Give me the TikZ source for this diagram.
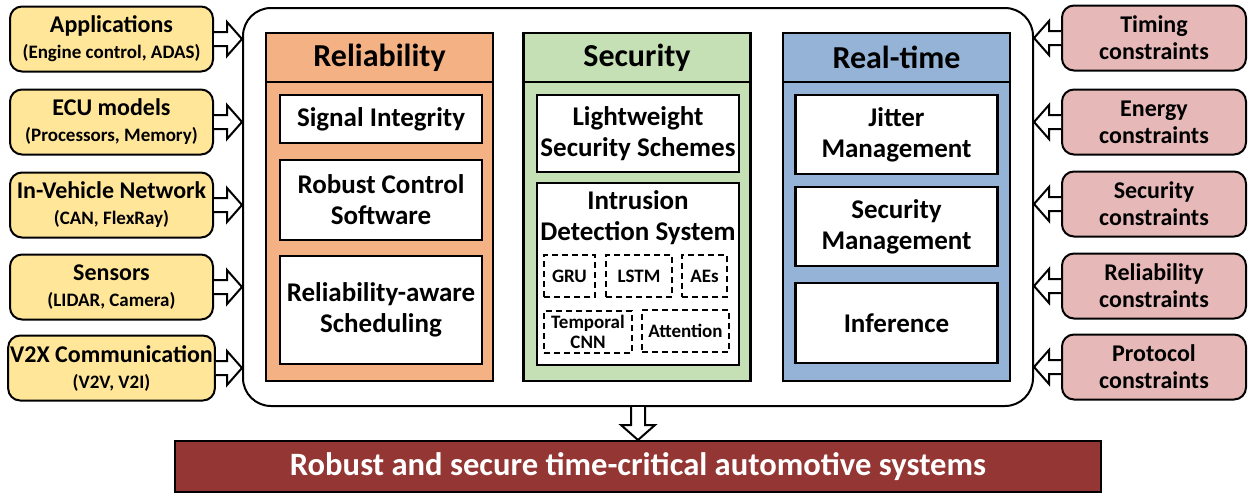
\documentclass[tikz,border=0pt]{standalone}
\usepackage{fontspec}
\setmainfont{Carlito}
\usetikzlibrary{calc, positioning}
\definecolor{inYellow}{HTML}{FFE699}
\definecolor{conPink}{HTML}{E6B9B8}
\definecolor{relOrange}{HTML}{F4B183}
\definecolor{secGreen}{HTML}{C5E0B4}
\definecolor{rtBlue}{HTML}{95B3D7}
\definecolor{goalRed}{HTML}{943634}

% hollow block arrow from #1 to #2
\newcommand{\blockarrow}[2]{%
  \draw[blkarrow] let \p1=(#1), \p2=(#2),
      \n1={veclen(\x2-\x1,\y2-\y1)}, \n2={atan2(\y2-\y1,\x2-\x1)} in
    ([shift={(\p1)},rotate=\n2]0pt,3.5pt) -- ([shift={(\p1)},rotate=\n2]\n1-7.5pt,3.5pt)
    -- ([shift={(\p1)},rotate=\n2]\n1-7.5pt,8.5pt) -- (\p2)
    -- ([shift={(\p1)},rotate=\n2]\n1-7.5pt,-8.5pt) -- ([shift={(\p1)},rotate=\n2]\n1-7.5pt,-3.5pt)
    -- ([shift={(\p1)},rotate=\n2]0pt,-3.5pt);}

\begin{document}
\begin{tikzpicture}[x=0.5pt, y=-0.5pt,
    inbox/.style={draw, line width=1pt, rounded corners=6pt, fill=inYellow, minimum width=101.5pt,
      minimum height=32.5pt, align=center, inner sep=1pt, font=\bfseries\fontsize{12}{13}\selectfont},
    conbox/.style={inbox, fill=conPink, minimum width=92pt, font=\bfseries\fontsize{12}{13.5}\selectfont},
    colbody/.style={draw, line width=1.3pt, minimum width=113.5pt, minimum height=174pt},
    colhead/.style={draw, line width=1.3pt, minimum width=113.5pt, minimum height=24.5pt,
      font=\bfseries\fontsize{16}{18}\selectfont},
    itembox/.style={draw, line width=1.3pt, fill=white, minimum width=101pt, align=center,
      inner sep=1pt, font=\bfseries\fontsize{13.5}{15.5}\selectfont},
    algbox/.style={draw, line width=1pt, dash pattern=on 3pt off 2pt, align=center, inner sep=1pt,
      font=\bfseries\fontsize{9.5}{10}\selectfont},
    blkarrow/.style={draw, fill=white, line width=1pt}]
  \useasboundingbox (0,0) rectangle (1248,493);

  % Main frame
  \node[draw, line width=1pt, rounded corners=14pt, minimum width=395pt, minimum height=199pt] (main) at (638,207) {};

  % Inputs
  \node[inbox] (app)  at (111.5,39)  {Applications\\{\fontsize{9.5}{11}\selectfont (Engine control, ADAS)}};
  \node[inbox] (ecu)  at (111.5,122) {ECU models\\{\fontsize{9.5}{11}\selectfont (Processors, Memory)}};
  \node[inbox] (ivn)  at (111.5,205) {In-Vehicle Network\\{\fontsize{9.5}{11}\selectfont (CAN, FlexRay)}};
  \node[inbox] (sens) at (111.5,287) {Sensors\\{\fontsize{9.5}{11}\selectfont (LIDAR, Camera)}};
  \node[inbox] (v2x)  at (111.5,368) {V2X Communication\\{\fontsize{9.5}{11}\selectfont (V2V, V2I)}};

  % Constraints
  \node[conbox] (timing) at (1154,38)  {Timing\\constraints};
  \node[conbox] (energy) at (1154,122) {Energy\\constraints};
  \node[conbox] (secc)   at (1154,204) {Security\\constraints};
  \node[conbox] (relc)   at (1154,286) {Reliability\\constraints};
  \node[conbox] (proto)  at (1154,367) {Protocol\\constraints};

  % Reliability
  \node[colbody, fill=relOrange] (relcol) at (379.5,207) {};
  \node[colhead, fill=relOrange, anchor=north] (relhead) at (relcol.north) {Reliability};
  \node[itembox, minimum height=24pt] (sigint) at (381,119) {Signal Integrity};
  \node[itembox, minimum height=40pt] (robctl) at (381,200) {Robust Control\\Software};
  \node[itembox, minimum height=54pt] (relsched) at (381,310) {Reliability-aware\\Scheduling};

  % Security
  \node[colbody, fill=secGreen] (seccol) at (637,207) {};
  \node[colhead, fill=secGreen, anchor=north] (sechead) at (seccol.north) {Security};
  \node[itembox, minimum height=38.5pt] (lwsec) at (638,133.5) {Lightweight\\Security Schemes};
  \node[itembox, minimum height=91pt] (ids) at (638,274) {};
  \node[align=center, anchor=north, inner sep=1pt, font=\bfseries\fontsize{13.5}{15.5}\selectfont]
    (idstitle) at ([yshift=-3pt]ids.north) {Intrusion\\Detection System};
  \node[algbox, minimum width=25.5pt, minimum height=21pt] (gru)  at (569.5,276) {GRU};
  \node[algbox, minimum width=33pt, minimum height=21pt]   (lstm) at (639,276)   {LSTM};
  \node[algbox, minimum width=22.5pt, minimum height=21pt] (aes)  at (704.5,276) {AEs};
  \node[algbox, minimum width=44pt, minimum height=21pt]   (tcnn) at (588,332)   {Temporal\\CNN};
  \node[algbox, minimum width=43.5pt, minimum height=21pt] (attn) at (685.5,331) {Attention};

  % Real-time
  \node[colbody, fill=rtBlue] (rtcol) at (896.5,207) {};
  \node[colhead, fill=rtBlue, anchor=north] (rthead) at (rtcol.north) {Real-time};
  \node[itembox, minimum height=39.5pt] (jitter) at (896.5,134.5) {Jitter\\Management};
  \node[itembox, minimum height=39.5pt] (secmgmt) at (896.5,226.5) {Security\\Management};
  \node[itembox, minimum height=40pt] (infer) at (896.5,323) {Inference};

  % Output
  \node[draw, line width=1pt, fill=goalRed, minimum width=463pt, minimum height=25.5pt, text=white,
    font=\bfseries\fontsize{16.3}{18}\selectfont] (goal) at (638,466.5) {Robust and secure time-critical automotive systems};

  % Arrows
  \foreach \b in {app,ecu,ivn,sens,v2x}
    \blockarrow{\b.east}{main.west |- \b.east};
  \foreach \b in {timing,energy,secc,relc,proto}
    \blockarrow{\b.west}{main.east |- \b.west};
  \blockarrow{main.south}{goal.north};
\end{tikzpicture}
\end{document}
